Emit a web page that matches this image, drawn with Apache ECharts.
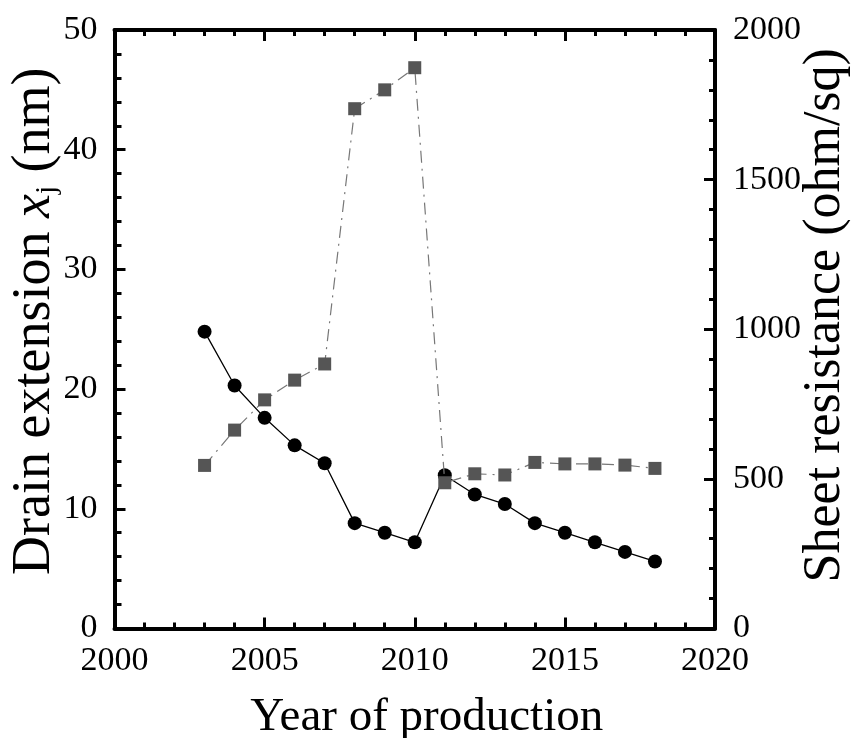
<!DOCTYPE html>
<html>
<head>
<meta charset="utf-8">
<style>
  html, body { margin: 0; padding: 0; background: #fff; }
  #chart { width: 853px; height: 738px; }
</style>
<script src="https://cdn.jsdelivr.net/npm/echarts@6/dist/echarts.min.js"></script>
</head>
<body>
<div id="chart"></div>
<script>
// Production years
const years = [2003, 2004, 2005, 2006, 2007, 2008, 2009, 2010,
               2011, 2012, 2013, 2014, 2015, 2016, 2017, 2018];
// Drain extension depth x_j (nm), left axis
const drainExtension = [24.8, 20.3, 17.6, 15.3, 13.8, 8.8, 8.0, 7.2,
                        12.8, 11.2, 10.4, 8.8, 8.0, 7.2, 6.4, 5.6];
// Sheet resistance (ohm/sq), right axis
const sheetResistance = [545, 663, 764, 830, 884, 1737, 1800, 1874,
                         487, 517, 513, 555, 550, 550, 546, 535];
// Tick settings
const xMin = 2000, xMax = 2020, xStep = 5;
const leftMin = 0, leftMax = 50, leftStep = 10;
const rightMin = 0, rightMax = 2000, rightStep = 500;

const FONT = '"Liberation Serif", "DejaVu Serif", serif';

const pairs = (xs, ys) => xs.map((x, i) => [x, ys[i]]);

const axisLine = { show: true, onZero: false, lineStyle: { color: '#000', width: 4 } };
const tick = (len) => ({ show: true, inside: true, length: len, lineStyle: { color: '#000', width: 3 } });
const minor = (len) => ({ show: true, splitNumber: 5, length: len, lineStyle: { color: '#000', width: 3 } });
const label = { color: '#000', fontFamily: FONT, fontSize: 34, formatter: (v) => String(v) };

const chart = echarts.init(document.getElementById('chart'), null, { renderer: 'canvas' });

chart.setOption({
  backgroundColor: '#fff',
  animation: false,
  grid: { left: 114.5, right: 138, top: 30, bottom: 109.5, containLabel: false, outerBoundsMode: 'none' },
  xAxis: [
    {
      type: 'value', position: 'bottom',
      min: xMin, max: xMax, interval: xStep,
      axisLine: axisLine, axisTick: tick(11), minorTick: minor(6),
      splitLine: { show: false },
      axisLabel: Object.assign({ margin: 16 }, label),
      name: 'Year of production', nameLocation: 'middle', nameGap: 66,
      nameMoveOverlap: false,
      nameTextStyle: { color: '#000', fontFamily: FONT, fontSize: 47, padding: [0, 0, 0, 24] }
    },
    {
      type: 'value', position: 'top',
      min: xMin, max: xMax, interval: xStep,
      axisLine: axisLine, axisTick: tick(11), minorTick: minor(6),
      splitLine: { show: false }, axisLabel: { show: false }
    }
  ],
  yAxis: [
    {
      type: 'value', position: 'left',
      min: leftMin, max: leftMax, interval: leftStep,
      axisLine: axisLine, axisTick: tick(11), minorTick: minor(7),
      splitLine: { show: false },
      axisLabel: Object.assign({ margin: 17 }, label),
      name: '{t|Drain extension }{x|x}{s|j}{t| (nm)}',
      nameLocation: 'middle', nameRotate: 90, nameGap: 53,
      nameMoveOverlap: false,
      nameTextStyle: {
        color: '#000', fontFamily: FONT, fontSize: 54,
        padding: [0, 0, 0, 16],
        rich: {
          t: { fontFamily: FONT, fontSize: 54, color: '#000' },
          x: { fontFamily: FONT, fontSize: 54, fontStyle: 'italic', color: '#000' },
          s: { fontFamily: FONT, fontSize: 29, color: '#000', verticalAlign: 'bottom', padding: [21, 0, 0, 0] }
        }
      }
    },
    {
      type: 'value', position: 'right',
      min: rightMin, max: rightMax, interval: rightStep,
      axisLine: axisLine, axisTick: tick(11), minorTick: minor(6),
      splitLine: { show: false },
      axisLabel: Object.assign({ margin: 18 }, label),
      name: 'Sheet resistance (ohm/sq)',
      nameLocation: 'middle', nameRotate: 90, nameGap: 84,
      nameMoveOverlap: false,
      nameTextStyle: {
        color: '#000', fontFamily: FONT, fontSize: 52,
        padding: [0, 0, 0, 28]
      }
    }
  ],
  series: [
    {
      name: 'Drain extension',
      type: 'line', xAxisIndex: 0, yAxisIndex: 0,
      data: pairs(years, drainExtension),
      symbol: 'circle', symbolSize: 14,
      itemStyle: { color: '#000' },
      lineStyle: { color: '#000', width: 1.3 },
      z: 2
    },
    {
      name: 'Sheet resistance',
      type: 'line', xAxisIndex: 0, yAxisIndex: 1,
      data: pairs(years, sheetResistance),
      symbol: 'rect', symbolSize: 13,
      itemStyle: { color: '#555' },
      lineStyle: { color: '#777', width: 1.2, type: [12, 6, 2, 6] },
      z: 3
    }
  ]
});
</script>
</body>
</html>
